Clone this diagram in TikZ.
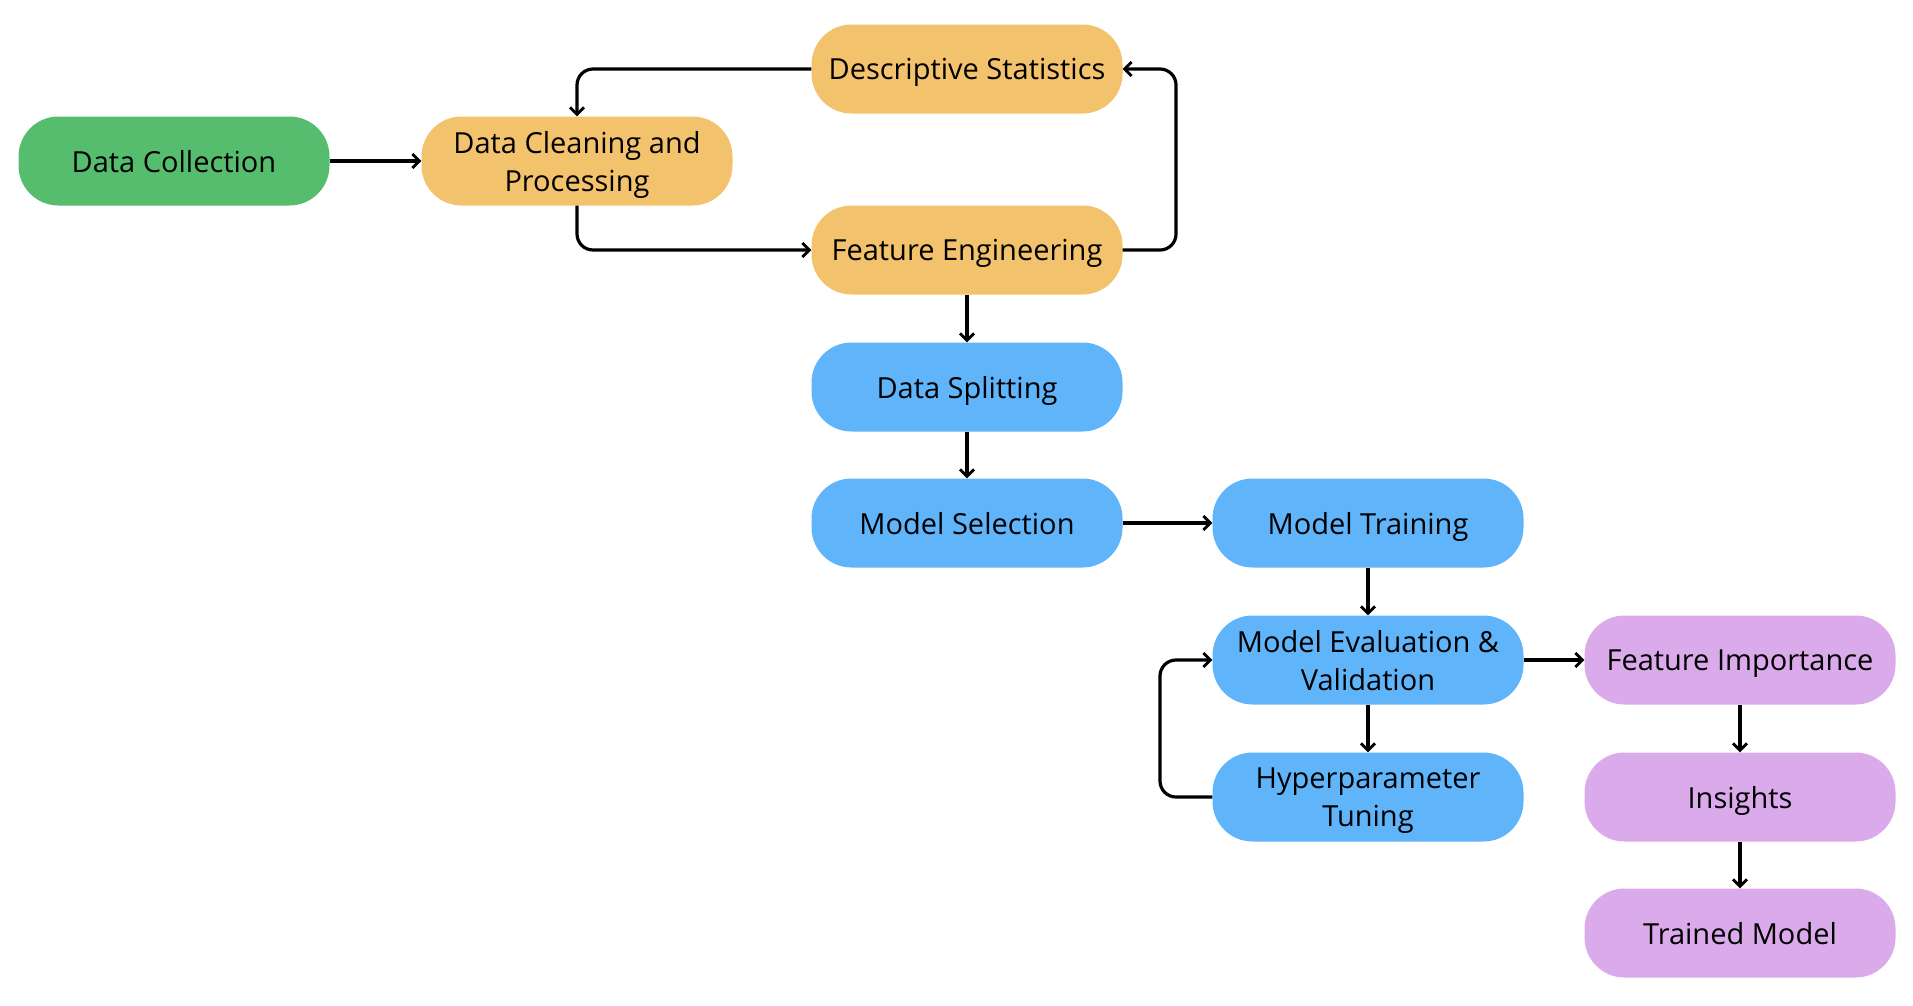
\documentclass[tikz,border=0pt]{standalone}
\usepackage{fontspec}
\setmainfont{Open Sans}
\usetikzlibrary{arrows.meta}
\definecolor{cgreen}{RGB}{87,189,110}
\definecolor{corange}{RGB}{243,194,108}
\definecolor{cblue}{RGB}{96,180,250}
\definecolor{cpurple}{RGB}{218,170,235}
\tikzset{
  box/.style={rounded corners=40pt, minimum width=311pt, minimum height=89pt, inner sep=0pt,
    align=center, font=\fontsize{29}{38}\selectfont, text=black, text depth=0pt},
  gbox/.style={box, fill=cgreen},
  obox/.style={box, fill=corange},
  bbox/.style={box, fill=cblue},
  pbox/.style={box, fill=cpurple},
  conn/.style={draw=black, line width=3.2pt, rounded corners=16pt,
    -{Straight Barb[length=7pt,width=14pt,line width=2.8pt]}}
}
\begin{document}
\begin{tikzpicture}[x=1pt,y=-1pt]
\useasboundingbox (0,0) rectangle (1913,1005);
\node[gbox] (col) at (174,161) {Data Collection};
\node[obox] (clean) at (577,161) {Data Cleaning and\\Processing};
\node[obox] (desc) at (967,69) {Descriptive Statistics};
\node[obox] (feat) at (967,250) {Feature Engineering};
\node[bbox] (split) at (967,387) {Data Splitting};
\node[bbox] (sel) at (967,523) {Model Selection};
\node[bbox] (train) at (1368,523) {Model Training};
\node[bbox] (eval) at (1368,660) {Model Evaluation \&\\Validation};
\node[bbox] (hyper) at (1368,797) {Hyperparameter\\Tuning};
\node[pbox] (imp) at (1740,660) {Feature Importance};
\node[pbox] (ins) at (1740,797) {Insights};
\node[pbox] (trained) at (1740,933) {Trained Model};
\coordinate (loopR) at (1176,0);
\coordinate (loopL) at (1160,0);

\draw[conn] (col.east) -- (clean.west);
\draw[conn] (desc.west) -| (clean.north);
\draw[conn] (clean.south) |- (feat.west);
\draw[conn] (feat.east) -- (feat.east -| loopR) -- (desc.east -| loopR) -- (desc.east);
\draw[conn] (feat.south) -- (split.north);
\draw[conn] (split.south) -- (sel.north);
\draw[conn] (sel.east) -- (train.west);
\draw[conn] (train.south) -- (eval.north);
\draw[conn] (eval.south) -- (hyper.north);
\draw[conn] (hyper.west) -- (hyper.west -| loopL) -- (eval.west -| loopL) -- (eval.west);
\draw[conn] (eval.east) -- (imp.west);
\draw[conn] (imp.south) -- (ins.north);
\draw[conn] (ins.south) -- (trained.north);
\end{tikzpicture}
\end{document}
